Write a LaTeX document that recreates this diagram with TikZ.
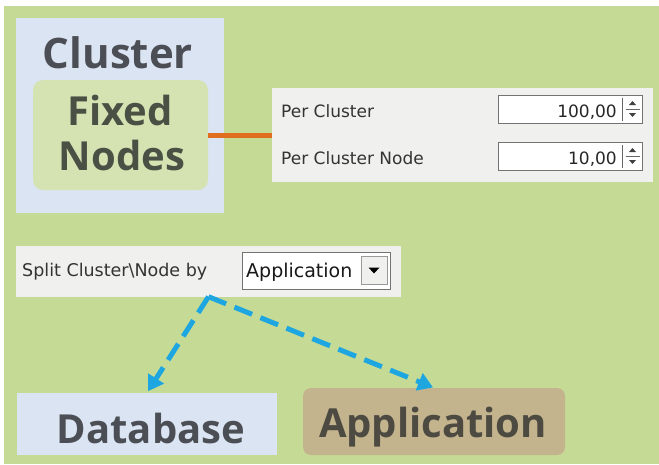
\documentclass[tikz,border=0pt]{standalone}
\usepackage{fontspec}
\setmainfont{DejaVu Sans}
\newfontfamily\bigf{Open Sans}
\usetikzlibrary{arrows.meta}
\definecolor{bggreen}{HTML}{C5DB95}
\definecolor{lblue}{HTML}{DBE4F2}
\definecolor{lgreen}{HTML}{D5E3B3}
\definecolor{tan}{HTML}{C3B48E}
\definecolor{panelgray}{HTML}{F0F0EF}
\definecolor{darktxt}{HTML}{4B4F55}
\definecolor{greentxt}{HTML}{4A5044}
\definecolor{tantxt}{HTML}{4D4A42}
\definecolor{orangeln}{HTML}{E06E1E}
\definecolor{cyanln}{HTML}{1EA6E0}
\tikzset{
  bigtext/.style={font=\bigf\bfseries\fontsize{40}{44}\selectfont, anchor=base, inner sep=0pt},
  smalltext/.style={font=\fontsize{17}{20}\selectfont, text=black!80, anchor=base west, inner sep=0pt},
  panel/.style={fill=panelgray, draw=none},
  spinbox/.style={fill=white, draw=black!55, line width=1pt},
  flow/.style={cyanln, line width=5pt, dash pattern=on 19pt off 9pt, -{Triangle[length=15pt,width=18pt]}}
}
\begin{document}
\begin{tikzpicture}[x=1pt,y=-1pt]
\useasboundingbox (0,0) rectangle (659,464);
\fill[white] (0,0) rectangle (659,464);
\fill[bggreen] (4,6) rectangle (659,464);

% cluster
\node[fill=lblue, minimum width=208, minimum height=195, inner sep=0pt] (cluster) at (120,115.5) {};
\node[bigtext, text=darktxt, font=\bigf\bfseries\fontsize{42}{46}\selectfont] (clt) at (118,68) {Cluster};
\node[fill=lgreen, rounded corners=10pt, minimum width=175, minimum height=110, inner sep=0pt] (fixed) at (120.5,135) {};
\node[bigtext, text=greentxt] (fxt) at (120,125) {Fixed};
\node[bigtext, text=greentxt] (ndt) at (122,170) {Nodes};

% settings panel
\node[panel, minimum width=381, minimum height=94, inner sep=0pt] (panel) at (462.5,135) {};
\draw[orangeln, line width=5pt] (fixed.east) -- (panel.west);
\node[smalltext] (pc) at (281,117) {Per Cluster};
\node[smalltext] (pcn) at (281,164) {Per Cluster Node};
\node[spinbox, minimum width=144, minimum height=28, inner sep=0pt] (sb1) at (570,109) {};
\node[spinbox, minimum width=144, minimum height=28, inner sep=0pt] (sb2) at (570,156) {};
\node[font=\fontsize{17}{20}\selectfont, anchor=base east, inner sep=0pt, text=black!85] (v1) at (617,117) {100,00};
\node[font=\fontsize{17}{20}\selectfont, anchor=base east, inner sep=0pt, text=black!85] (v2) at (617,164) {10,00};
\foreach \b in {sb1,sb2}{
  \draw[black!60, line width=0.8pt] ([xshift=-20pt,yshift=-3pt]\b.north east) -- ([xshift=-20pt,yshift=3pt]\b.south east);
  \fill[black!75] ([xshift=-10pt,yshift=8pt]\b.east) -- ++(-3.5,4) -- ++(7,0) -- cycle;
  \fill[black!75] ([xshift=-10pt,yshift=-8pt]\b.east) -- ++(-3.5,-4) -- ++(7,0) -- cycle;
  \draw[black!60, line width=0.8pt] ([xshift=-17pt]\b.east) -- ([xshift=-3pt]\b.east);
}

% split panel
\node[panel, minimum width=385, minimum height=51, inner sep=0pt] (split) at (208.5,271) {};
\node[smalltext, font=\fontsize{17.5}{20}\selectfont] (spt) at (22,276) {Split Cluster\textbackslash Node by};
\node[spinbox, minimum width=148, minimum height=37, inner sep=0pt] (combo) at (316,270.5) {};
\node[font=\fontsize{19}{22}\selectfont, anchor=base west, inner sep=0pt, text=black!90] (ctx) at (246,277) {Application};
\node[fill=panelgray, draw=black!40, line width=0.6pt, minimum width=26, minimum height=28, inner sep=0pt] (btn) at (374,270.5) {};
\fill[black] ([xshift=-5.5pt,yshift=3pt]btn.center) -- ++(11,0) -- ++(-5.5,6) -- cycle;

% targets
\node[fill=lblue, minimum width=260, minimum height=62, inner sep=0pt] (db) at (147,424) {};
\node[bigtext, text=darktxt] (dbt) at (151,443) {Database};
\node[fill=tan, rounded corners=8pt, minimum width=262, minimum height=67, inner sep=0pt] (app) at (434,421.5) {};
\node[bigtext, text=tantxt] (appt) at (433,437) {Application};

\draw[flow, shorten >=2pt] (split.south) -- (db.north);
\draw[flow, shorten >=1pt] (split.south) -- (app.north);
\end{tikzpicture}
\end{document}
